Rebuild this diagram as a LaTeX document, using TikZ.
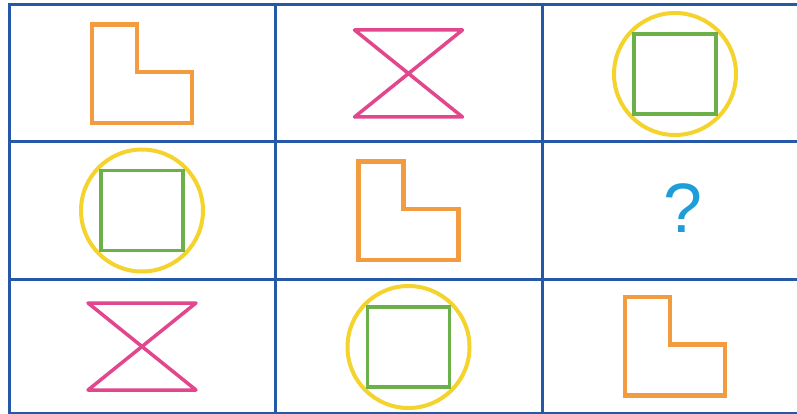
\documentclass[tikz,border=0pt]{standalone}
\usepackage{fontspec}
\setmainfont{Liberation Sans}
\usepackage{xcolor}
\definecolor{gridblue}{HTML}{2658A8}
\definecolor{lorange}{HTML}{F29C3F}
\definecolor{hpink}{HTML}{E2468C}
\definecolor{sqgreen}{HTML}{6CB04A}
\definecolor{ringyellow}{HTML}{F3D32C}
\definecolor{qblue}{HTML}{1F9DD9}
\usepackage{tikz}
\usetikzlibrary{positioning}

\begin{document}
\begin{tikzpicture}[
  x=1pt, y=-1pt,
  gridline/.style={draw=gridblue, line width=3pt},
  lshape/.pic={\draw[lorange, line width=4.5pt]
    (-50,-49) -- (-5,-49) -- (-5,-1.5) -- (50,-1.5) -- (50,49.5) -- (-50,49.5) -- cycle;},
  hourglass/.pic={\draw[hpink, line width=3.5pt, line join=round]
    (-54,-43.5) -- (54,-43.5) -- (-54,43.5) -- (54,43.5) -- cycle;},
  ringsq/.pic={\draw[ringyellow, line width=4pt] (0,0) circle[radius=61];
    \draw[sqgreen, line width=3.5pt] (-41,-40) rectangle (41,40);},
  qmark/.style={text=qblue, inner sep=0pt, font=\fontsize{70}{70}\selectfont}
]
  \useasboundingbox (0,0) rectangle (797,414);
  \clip (0,0) rectangle (797,414);

  % cell centres
  \coordinate (r1c1) at (142,73.5);
  \coordinate (r1c2) at (408.5,73.5);
  \coordinate (r1c3) at (675,74);
  \coordinate (r2c1) at (142,210.5);
  \coordinate (r2c2) at (408.5,210.5);
  \coordinate (r2c3) at (675,210.5);
  \coordinate (r3c1) at (142,346.5);
  \coordinate (r3c2) at (408.5,347);
  \coordinate (r3c3) at (675,346);

  % grid
  \draw[gridline] (9,5) rectangle (808,413);
  \draw[gridline] (275,5) -- (275,413);
  \draw[gridline] (542,5) -- (542,413);
  \draw[gridline] (9,142) -- (808,142);
  \draw[gridline] (9,279) -- (808,279);

  % row 1
  \pic at (r1c1) {lshape};
  \pic at (r1c2) {hourglass};
  \pic at (r1c3) {ringsq};
  % row 2
  \pic at (r2c1) {ringsq};
  \pic at (r2c2) {lshape};
  \node[qmark] (ask) at ([xshift=8pt,yshift=2pt]r2c3) {?};
  % row 3
  \pic at (r3c1) {hourglass};
  \pic at (r3c2) {ringsq};
  \pic at (r3c3) {lshape};
\end{tikzpicture}
\end{document}
